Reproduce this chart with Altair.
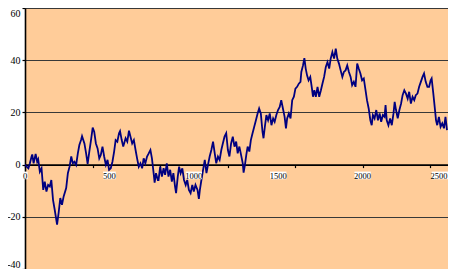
import altair as alt
import pandas as pd

# Random-walk position
steps = [0, 10, 20, 29, 39, 43, 51, 63, 72, 78, 88, 98, 108, 117, 127, 137, 147, 156,
         166, 176, 190, 199, 209, 219, 229, 244, 254, 264, 274, 283, 293, 303, 313, 322,
         332, 338, 352, 362, 371, 381, 391, 401, 410, 420, 430, 440, 449, 459, 469, 479,
         489, 498, 508, 518, 528, 537, 547, 557, 563, 573, 582, 596, 606, 616, 625, 635,
         645, 655, 664, 674, 684, 694, 703, 713, 723, 733, 743, 752, 762, 768, 776, 787,
         791, 801, 811, 821, 830, 840, 850, 860, 870, 879, 889, 895, 905, 913, 922, 932,
         942, 952, 961, 971, 981, 991, 1000, 1010, 1022, 1030, 1036, 1045, 1055, 1065,
         1075, 1084, 1094, 1104, 1114, 1124, 1133, 1143, 1153, 1163, 1172, 1182, 1192,
         1202, 1211, 1221, 1231, 1241, 1251, 1260, 1270, 1280, 1290, 1295, 1303, 1311,
         1319, 1329, 1338, 1348, 1358, 1368, 1378, 1387, 1397, 1407, 1413, 1421, 1430,
         1440, 1450, 1460, 1470, 1479, 1489, 1499, 1509, 1518, 1528, 1538, 1546, 1553,
         1563, 1573, 1583, 1593, 1602, 1612, 1622, 1632, 1637, 1647, 1655, 1663, 1671,
         1680, 1690, 1700, 1706, 1714, 1723, 1733, 1743, 1753, 1762, 1772, 1782, 1792,
         1802, 1811, 1821, 1831, 1841, 1850, 1860, 1870, 1880, 1889, 1899, 1909, 1919,
         1929, 1938, 1948, 1958, 1968, 1977, 1987, 1997, 2007, 2016, 2026, 2036, 2046,
         2054, 2061, 2071, 2081, 2091, 2101, 2110, 2120, 2130, 2136, 2143, 2153, 2163,
         2173, 2183, 2190, 2198, 2208, 2218, 2228, 2237, 2247, 2257, 2267, 2276, 2286,
         2296, 2306, 2315, 2325, 2335, 2345, 2355, 2364, 2374, 2384, 2394, 2403, 2409,
         2419, 2429, 2435, 2442, 2452, 2462, 2472, 2482, 2491, 2500]
values = [0.0, -0.8, -1.4, 0.5, 3.1, 3.9, 0.5, 4.1, 1.1, 2.0, -2.7, -1.4, -9.7, -6.5,
          -10.3, -7.8, -8.4, -5.9, -13.5, -17.3, -23.0, -18.6, -12.8, -15.4, -12.2, -9.0,
          -3.3, -0.8, 3.1, 0.5, 1.1, -0.1, 4.3, 7.5, 9.4, 10.9, 8.1, 4.3, 0.3, 5.0, 9.4,
          14.2, 12.6, 8.1, 6.2, 2.4, 3.7, 6.9, 3.1, -0.1, 1.8, -2.0, -1.4, 1.1, 5.0, 9.4,
          8.8, 12.0, 12.8, 9.4, 6.9, 10.1, 8.8, 13.0, 10.7, 8.1, 9.4, 5.6, 2.4, -0.8, 0.5,
          -1.4, 2.4, 0.5, 3.1, 4.3, 5.6, 2.4, -3.3, -6.9, -3.3, -5.9,
          -5.9, -0.8, -4.6, -1.4, -3.9, 0.5, -4.6, -2.0, -6.5, -3.3, -8.4, -10.9, -4.6,
          -0.8, -3.3, -1.4, -5.9, -7.8, -5.9, -9.7, -10.9, -7.8, -10.3, -7.8, -9.7, -13.1,
          -9.7, -5.9, -2.0, 1.8, -3.3, -0.1, 3.1, 5.6, 8.8, 4.3, 0.5, 3.1, 1.8, 5.6, 8.1,
          10.7, 12.0, 5.6, 3.1, 8.1, 10.7, 6.9, 8.8, 4.3, 6.9, 3.7, 0.5, -3.1, -0.1, 3.7,
          6.9, 5.0, 9.4, 12.0, 14.5, 17.0, 19.6, 21.5, 19.6, 12.6, 10.1, 14.5, 19.0, 17.0,
          19.6, 15.1, 17.7, 16.4, 19.0, 20.9, 22.1, 24.7, 21.5, 18.3, 13.9, 17.7, 19.6,
          17.7, 24.7, 26.0, 29.1, 29.8, 31.0, 31.7, 35.5, 38.0, 40.8, 36.8, 34.2,
          32.3, 33.6, 29.1, 26.0, 28.5, 26.0, 29.8, 26.0, 28.5, 31.0, 33.6, 37.4, 39.3,
          36.8, 40.6, 43.1, 40.6, 44.4, 40.6, 38.7, 36.1, 33.6, 35.5, 36.1, 38.0, 35.5,
          33.6, 30.4, 31.7, 29.8, 38.7, 36.8, 34.9, 32.3, 33.0, 29.1, 24.7, 21.5, 17.0,
          15.1, 19.0, 17.7, 20.9, 17.0, 19.6, 16.4, 19.0, 18.3, 22.8, 17.0, 15.1, 17.7,
          15.1, 19.6, 24.0, 20.9, 17.7, 20.9, 23.4, 26.6, 28.5, 27.2, 25.3, 27.9, 23.4,
          26.0, 24.7, 26.6, 27.2, 29.8, 31.7, 33.6, 34.9, 31.7, 29.8, 29.8, 32.3, 33.0,
          27.2, 20.9, 17.0, 15.1, 18.3, 14.5, 15.8, 13.9, 18.3, 13.2]

x_label_values = [0, 500, 1000, 1500, 2000, 2500]
x_labels = ["0", "500", "1000", "1500", "2000", "2500"]
x_tick_values = [0, 100, 200, 300, 400, 500, 600, 700, 800, 900, 1000, 1100, 1200,
                 1300, 1400, 1500, 1600, 1700, 1800, 1900, 2000, 2100, 2200, 2300,
                 2400, 2500]
y_tick_values = [-40, -20, 0, 20, 40, 60]

W = 423
H = 261
PX_PER_500 = 84.4
X_MAX = W * 500 / PX_PER_500

df = pd.DataFrame({"step": steps, "value": values})
lab = pd.DataFrame({"pos": x_label_values, "text": x_labels})
box_w = lab["text"].str.len() * 3.7 + 1.5
u = 500 / PX_PER_500
last = lab["pos"] == lab["pos"].max()
# centred boxes, except the last one which is kept flush with the plot edge
lab["x1"] = lab["pos"] - box_w / 2 * u
lab["x2"] = lab["pos"] + box_w / 2 * u
lab.loc[last, "x2"] = X_MAX
lab.loc[last, "x1"] = X_MAX - box_w[last] * u
lab["anchor"] = lab["pos"]
lab.loc[last, "anchor"] = X_MAX - 0.5 * u

xscale = alt.Scale(domain=[0, X_MAX], nice=False, zero=False)
yscale = alt.Scale(domain=[-40, 60], nice=False, zero=False)

zero_px = H * 60 / 100

line = alt.Chart(df).mark_line(color="#000080", strokeWidth=1.8, clip=True).encode(
    x=alt.X("step:Q", scale=xscale,
            axis=alt.Axis(values=x_tick_values, labels=False, title=None,
                          offset=-(H - zero_px), domainColor="black", domainWidth=1.6,
                          tickColor="black", tickSize=3, tickWidth=1.2, grid=False)),
    y=alt.Y("value:Q", scale=yscale,
            axis=alt.Axis(values=y_tick_values, title=None, grid=True,
                          gridColor="#383838", gridWidth=1, domainColor="black",
                          domainWidth=1.6, tickColor="black", tickSize=3, tickWidth=1.2,
                          labelFont="Liberation Serif", labelFontSize=10,
                          labelColor="black", labelPadding=2, labelFlush=True,
                          labelExpr="'' + datum.value")),
)

boxes = alt.Chart(lab).mark_rect(color="white").encode(
    x=alt.X("x1:Q", scale=xscale),
    x2="x2:Q",
    y=alt.value(zero_px + 7),
    y2=alt.value(zero_px + 14.6),
)

texts_mid = alt.Chart(lab).transform_filter(
    alt.datum.pos < 2500
).mark_text(font="Liberation Serif", fontSize=8.5, baseline="middle",
            align="center", color="black").encode(
    x=alt.X("anchor:Q", scale=xscale),
    y=alt.value(zero_px + 11),
    text="text:N",
)

texts_end = alt.Chart(lab).transform_filter(
    alt.datum.pos >= 2500
).mark_text(font="Liberation Serif", fontSize=8.5, baseline="middle",
            align="right", color="black").encode(
    x=alt.X("anchor:Q", scale=xscale),
    y=alt.value(zero_px + 11),
    text="text:N",
)

chart = alt.layer(line, boxes, texts_mid, texts_end).properties(
    width=W, height=H,
    autosize=alt.AutoSizeParams(type="none"),
    padding={"left": 17, "top": 0, "right": 0, "bottom": 0},
    background="white",
).configure_view(fill="#FFCC99", stroke="#808080", strokeWidth=1)

chart.save("out.html", embed_options={"renderer": "svg", "actions": False})
